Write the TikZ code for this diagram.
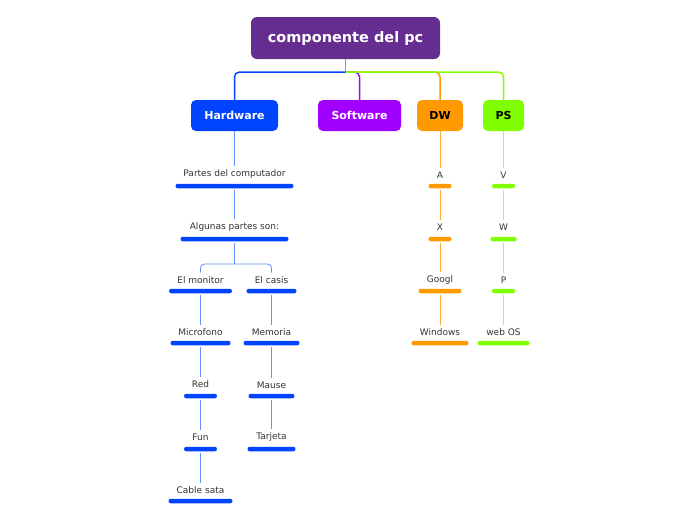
\documentclass[tikz,border=0pt]{standalone}
\usepackage{fontspec}
\setmainfont{DejaVu Sans}
\definecolor{rootc}{HTML}{662D91}
\definecolor{hwc}{HTML}{0044FF}
\definecolor{swc}{HTML}{A100FF}
\definecolor{dwc}{HTML}{FF9900}
\definecolor{psc}{HTML}{80FF00}
\definecolor{txt}{HTML}{333333}
\begin{document}
\begin{tikzpicture}[x=1pt,y=-1pt,
  mainbox/.style={rounded corners=5pt, minimum height=31pt, inner sep=0pt, font=\bfseries\fontsize{11}{13}\selectfont},
  lab/.style={text=txt, font=\fontsize{9}{11}\selectfont, inner sep=1pt, outer sep=3pt},
  bar/.style={fill=#1, rounded corners=2.2pt, minimum height=4.5pt, inner sep=0pt, outer sep=2pt},
  mconn/.style={draw=#1, line width=1.5pt, rounded corners=5pt},
  sconn/.style={draw=#1, line width=0.8pt},
  brk/.style={draw=#1, line width=0.8pt, rounded corners=4pt}]
\useasboundingbox (0,0) rectangle (696,520);

% root and main topics
\node[fill=rootc, rounded corners=6pt, minimum width=189pt, minimum height=42pt, inner sep=0pt,
      text=white, font=\bfseries\fontsize{14.5}{17}\selectfont] (root) at (345.5,38) {componente del pc};
\node[mainbox, fill=hwc, text=white, minimum width=87pt] (hw) at (234.5,115.5) {Hardware};
\node[mainbox, fill=swc, text=white, minimum width=83pt] (sw) at (359.5,115.5) {Software};
\node[mainbox, fill=dwc, text=black, minimum width=46pt] (dw) at (440,115.5) {DW};
\node[mainbox, fill=psc, text=black, minimum width=41pt] (ps) at (503.5,115.5) {PS};

\coordinate (j0) at (345.5,72);
\coordinate (jhw) at (234.5,72);
\coordinate (jsw) at (359.5,72);
\coordinate (jdw) at (440,72);
\coordinate (jps) at (503.5,72);
\draw[mconn=hwc] (j0) -- (jhw) -- (hw.north);
\draw[mconn=swc] (j0) -- (jsw) -- (sw.north);
\draw[mconn=dwc] (j0) -- (jdw) -- (dw.north);
\draw[mconn=psc] (j0) -- (jps) -- (ps.north);
\draw[draw=psc!80!black, line width=1.5pt] (root.south) -- ([yshift=-0.75pt]j0);

% Hardware branch
\node[lab] (t1) at (234.5,174) {Partes del computador};
\node[bar=hwc, minimum width=118pt] (b1) at (234.5,186) {};
\node[lab] (t2) at (234.5,227) {Algunas partes son:};
\node[bar=hwc, minimum width=108pt] (b2) at (234.5,239) {};
\node[lab] (t3) at (200.5,280) {El monitor};
\node[bar=hwc, minimum width=63pt] (b3) at (200.5,291) {};
\node[lab] (t4) at (271.5,280) {El casis};
\node[bar=hwc, minimum width=50pt] (b4) at (271.5,291) {};
\node[lab] (t5) at (200.5,332) {Microfono};
\node[bar=hwc, minimum width=60pt] (b5) at (200.5,343) {};
\node[lab] (t6) at (200.5,384) {Red};
\node[bar=hwc, minimum width=33pt] (b6) at (200.5,396) {};
\node[lab] (t7) at (200.5,437) {Fun};
\node[bar=hwc, minimum width=33pt] (b7) at (200.5,449) {};
\node[lab] (t8) at (200.5,490) {Cable sata};
\node[bar=hwc, minimum width=64pt] (b8) at (200.5,501) {};
\node[lab] (t9) at (271.5,332) {Memoria};
\node[bar=hwc, minimum width=56pt] (b9) at (271.5,343) {};
\node[lab] (t10) at (271.5,385) {Mause};
\node[bar=hwc, minimum width=46pt] (b10) at (271.5,396) {};
\node[lab] (t11) at (271.5,437) {Tarjeta};
\node[bar=hwc, minimum width=48pt] (b11) at (271.5,449) {};

\draw[sconn=hwc!60] (hw.south) -- (t1.north);
\draw[sconn=hwc!60] (b1.south) -- (t2.north);
\coordinate (br) at (234.5,264);
\draw[sconn=hwc!60] (b2.south) -- (br);
\draw[brk=hwc!60] (t3.north) |- (br) -| (t4.north);
\draw[sconn=hwc!60] (b3.south) -- (t5.north);
\draw[sconn=hwc!60] (b5.south) -- (t6.north);
\draw[sconn=hwc!60] (b6.south) -- (t7.north);
\draw[sconn=hwc!60] (b7.south) -- (t8.north);
\draw[sconn=hwc!60] (b4.south) -- (t9.north);
\draw[sconn=hwc!60] (b9.south) -- (t10.north);
\draw[sconn=hwc!60] (b10.south) -- (t11.north);

% DW branch
\node[lab] (d1) at (440,175) {A};
\node[bar=dwc, minimum width=23pt] (db1) at (440,186) {};
\node[lab] (d2) at (440,227) {X};
\node[bar=dwc, minimum width=23pt] (db2) at (440,239) {};
\node[lab] (d3) at (440,280) {Googl};
\node[bar=dwc, minimum width=43pt] (db3) at (440,291) {};
\node[lab] (d4) at (440,332) {Windows};
\node[bar=dwc, minimum width=57pt] (db4) at (440,343) {};
\draw[sconn=dwc!80] (dw.south) -- (d1.north);
\draw[sconn=dwc!80] (db1.south) -- (d2.north);
\draw[sconn=dwc!80] (db2.south) -- (d3.north);
\draw[sconn=dwc!80] (db3.south) -- (d4.north);

% PS branch
\node[lab] (p1) at (503.5,175) {V};
\node[bar=psc, minimum width=23pt] (pb1) at (503.5,186) {};
\node[lab] (p2) at (503.5,227) {W};
\node[bar=psc, minimum width=26pt] (pb2) at (503.5,239) {};
\node[lab] (p3) at (503.5,280) {P};
\node[bar=psc, minimum width=23pt] (pb3) at (503.5,291) {};
\node[lab] (p4) at (503.5,332) {web OS};
\node[bar=psc, minimum width=52pt] (pb4) at (503.5,343) {};
\draw[sconn=psc!70] (ps.south) -- (p1.north);
\draw[sconn=psc!70] (pb1.south) -- (p2.north);
\draw[sconn=psc!70] (pb2.south) -- (p3.north);
\draw[sconn=psc!70] (pb3.south) -- (p4.north);
\end{tikzpicture}
\end{document}
